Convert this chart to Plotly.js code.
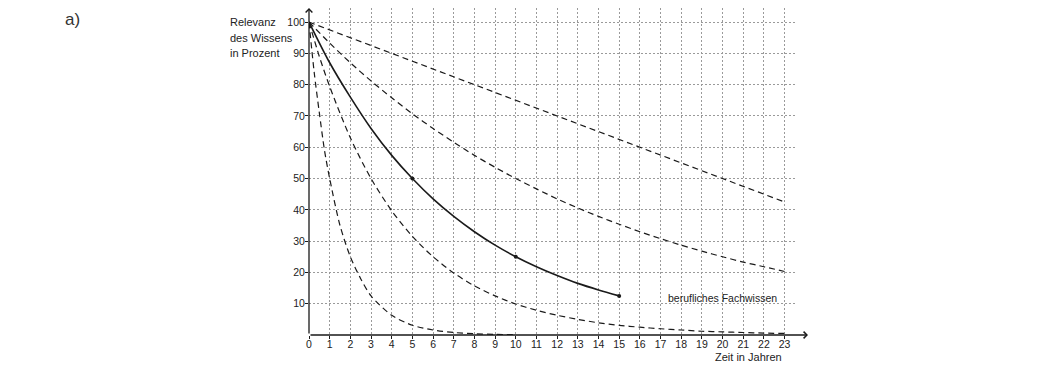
<!DOCTYPE html>
<html>
<head>
<meta charset="utf-8">
<script src="https://cdn.plot.ly/plotly-3.0.1.min.js"></script>
<style>html,body{margin:0;padding:0;background:#fff;}#chart{width:1040px;height:372px;}</style>
</head>
<body>
<div id="chart"></div>
<script>
// Values
const xSteep = [0, 0.25, 0.5, 0.75, 1, 1.5, 2, 2.5, 3, 4, 5, 6, 7, 8, 9, 10];
const ySteep = [100, 84, 71, 59, 50, 35, 25, 18, 12.5, 6.3, 3.1, 1.6, 0.8, 0.4, 0.2, 0.1];

const xFast = [0, 0.5, 1, 2, 3, 4, 5, 6, 7, 8, 9, 10, 11, 12, 13, 14, 15, 16, 17, 18, 19, 20, 21, 22, 23];
const yFast = [100, 89, 79.4, 63, 50, 39.7, 31.5, 25, 19.8, 15.7, 12.5, 9.9, 7.9, 6.3, 5, 3.9, 3.1, 2.5, 2, 1.6, 1.2, 1, 0.8, 0.6, 0.5];

const xFach = [0, 1, 2, 3, 4, 5, 6, 7, 8, 9, 10, 11, 12, 13, 14, 15];
const yFach = [100, 87, 76, 66, 57.4, 50, 43.5, 37.9, 33, 28.7, 25, 21.8, 19, 16.5, 14.4, 12.5];
const xFachDots = [5, 10, 15];
const yFachDots = [50, 25, 12.5];

const xSlow = [0, 1, 2, 3, 4, 5, 6, 7, 8, 9, 10, 11, 12, 13, 14, 15, 16, 17, 18, 19, 20, 21, 22, 23];
const ySlow = [100, 93.3, 87, 81.2, 75.8, 70.7, 66, 61.6, 57.4, 53.6, 50, 46.7, 43.5, 40.6, 37.9, 35.4, 33, 30.8, 28.7, 26.8, 25, 23.3, 21.8, 20.3];

const xLinear = [0, 4, 10, 20, 23];
const yLinear = [100, 90, 75, 50, 42.5];

const xTicks = Array.from({length: 24}, (_, i) => i);
const yTicks = [10, 20, 30, 40, 50, 60, 70, 80, 90, 100];

const yTitleLines = ['Relevanz', 'des Wissens', 'in Prozent'];
const xTitle = 'Zeit in Jahren';
const curveLabel = 'berufliches Fachwissen';
const partLabel = 'a)';

const ink = '#1a1a1a';
const txt = '#222';
const dashLine = {color: ink, width: 1.2, dash: '6px,4px', shape: 'spline', smoothing: 0.8};

const traces = [
  {x: xSteep, y: ySteep, mode: 'lines', line: dashLine, hoverinfo: 'skip'},
  {x: xFast, y: yFast, mode: 'lines', line: dashLine, hoverinfo: 'skip'},
  {x: xSlow, y: ySlow, mode: 'lines', line: dashLine, hoverinfo: 'skip'},
  {x: xLinear, y: yLinear, mode: 'lines', line: {color: ink, width: 1.2, dash: '6px,4px'}, hoverinfo: 'skip'},
  {x: xFach, y: yFach, mode: 'lines', line: {color: ink, width: 1.6, shape: 'spline', smoothing: 0.8}, hoverinfo: 'skip'},
  {x: xFachDots, y: yFachDots, mode: 'markers', marker: {color: ink, size: 4}, hoverinfo: 'skip'}
];

const fontFam = '"Liberation Sans", Arial, sans-serif';
const H = 327; // plot height in px
const py = (pix) => (335 - pix) / H; // pixel row -> paper y

const annotations = [
  {xref: 'paper', yref: 'paper', x: 1.0225, y: 0, ax: -499, ay: 0, text: '',
   showarrow: true, arrowhead: 4, arrowsize: 1, arrowwidth: 1.3, arrowcolor: ink, standoff: 0, startstandoff: 0},
  {xref: 'paper', yref: 'paper', x: 0, y: 1.0, ax: 0, ay: 327, text: '',
   showarrow: true, arrowhead: 4, arrowsize: 1, arrowwidth: 1.3, arrowcolor: ink, standoff: 0, startstandoff: 0},
  {xref: 'x', yref: 'paper', x: 22.95, y: py(349), xanchor: 'right', yanchor: 'top',
   text: xTitle, showarrow: false, font: {family: fontFam, size: 11, color: txt}},
  {xref: 'x', yref: 'y', x: 17.25, y: 11.8, xanchor: 'left', yanchor: 'middle',
   text: curveLabel, showarrow: false, font: {family: fontFam, size: 10.5, color: txt}},
  {xref: 'paper', yref: 'paper', x: (63 - 309) / 488, y: py(8), xanchor: 'left', yanchor: 'top',
   text: partLabel, showarrow: false, font: {family: fontFam, size: 17, color: '#333'}}
];
yTitleLines.forEach((t, i) => {
  annotations.push({xref: 'paper', yref: 'paper', x: (228 - 309) / 488, y: py(22 + i * 15.5),
    xanchor: 'left', yanchor: 'middle', text: t, showarrow: false, align: 'left',
    font: {family: fontFam, size: 11, color: txt}});
});

const layout = {
  width: 1040, height: 372,
  margin: {l: 309, r: 243, t: 8, b: 37},
  paper_bgcolor: '#fff', plot_bgcolor: '#fff',
  showlegend: false,
  font: {family: fontFam, size: 10.5, color: txt},
  xaxis: {
    range: [0, 23.6], tickvals: xTicks, ticktext: xTicks.map(String),
    showgrid: true, gridcolor: '#9a9a9a', griddash: '2px,2px', gridwidth: 1,
    zeroline: false, showline: false,
    ticks: 'outside', ticklen: 3, tickcolor: ink, tickwidth: 1, ticklabelstandoff: -4,
    tickfont: {family: fontFam, size: 10.5, color: txt}, fixedrange: true
  },
  yaxis: {
    range: [0, 104.5], tickvals: yTicks, ticktext: yTicks.map(String),
    showgrid: true, gridcolor: '#9a9a9a', griddash: '2px,2px', gridwidth: 1,
    zeroline: false, showline: false,
    ticks: 'outside', ticklen: 3, tickcolor: ink, tickwidth: 1, ticklabelstandoff: -2,
    tickfont: {family: fontFam, size: 10.5, color: txt}, fixedrange: true
  },
  annotations: annotations
};

Plotly.newPlot('chart', traces, layout, {displayModeBar: false, staticPlot: true});
</script>
</body>
</html>
